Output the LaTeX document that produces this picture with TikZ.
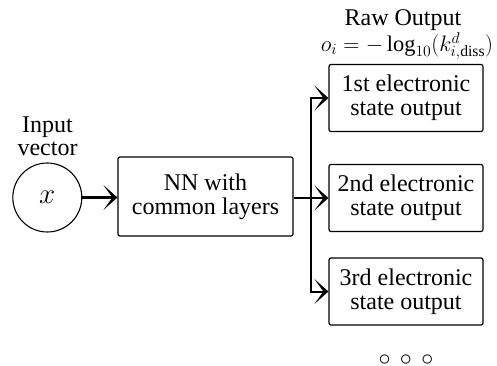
\RequirePackage{fix-cm}
\documentclass[tikz,border=0pt]{standalone}
\usepackage{fontspec}
\setmainfont{Liberation Serif}
\usetikzlibrary{arrows.meta}
\begin{document}
\begin{tikzpicture}[x=1pt,y=-1pt,
  lbl/.style={font=\fontsize{24}{24}\selectfont, align=center, inner sep=0pt},
  box/.style={draw, line width=1.2pt, rounded corners=2pt, minimum height=67pt, lbl},
  outbox/.style={box, minimum width=154pt},
  conn/.style={line width=2pt},
  arr/.style={conn, -{Stealth[length=14pt,width=25pt,inset=9pt]}}
]
\useasboundingbox (0,0) rectangle (497,366);
\node[lbl, font=\fontsize{24}{23}\selectfont] (inlbl) at (47.5,136) {Input\\vector};
\node[draw, circle, line width=1.1pt, minimum size=69pt, inner sep=0pt, font=\fontsize{29}{29}\selectfont] (x) at (47.3,197.5) {$x$};
\node[box, minimum width=175pt, minimum height=79pt] (nn) at (205.5,196.5) {NN with\\common layers};
\node[outbox] (o1) at (406,98) {1st electronic\\state output};
\node[outbox] (o2) at (406,198) {2nd electronic\\state output};
\node[outbox] (o3) at (406,291.5) {3rd electronic\\state output};
\node[lbl] (raw) at (403,20) {Raw Output};
\node[lbl, font=\fontsize{22.4}{22}\selectfont] (eq) at (407,46) {$o_i = -\log_{10}(k^d_{i,\mathrm{diss}})$};
\node[lbl] (dots) at (406,360) {$\circ\mkern3mu\circ\mkern3mu\circ$};
\coordinate (br) at (311,198);
\coordinate (b1) at (311,98);
\coordinate (b3) at (311,291.5);
\draw[arr, line width=2.8pt] (x) -- (nn.west |- x);
\draw[conn] (nn.east |- br) -- (br);
\draw[conn] (b1) -- (b3);
\draw[arr] ([xshift=-1pt]b1) -- (o1.west);
\draw[arr] (br) -- (o2.west);
\draw[arr] ([xshift=-1pt]b3) -- (o3.west);
\end{tikzpicture}
\end{document}
